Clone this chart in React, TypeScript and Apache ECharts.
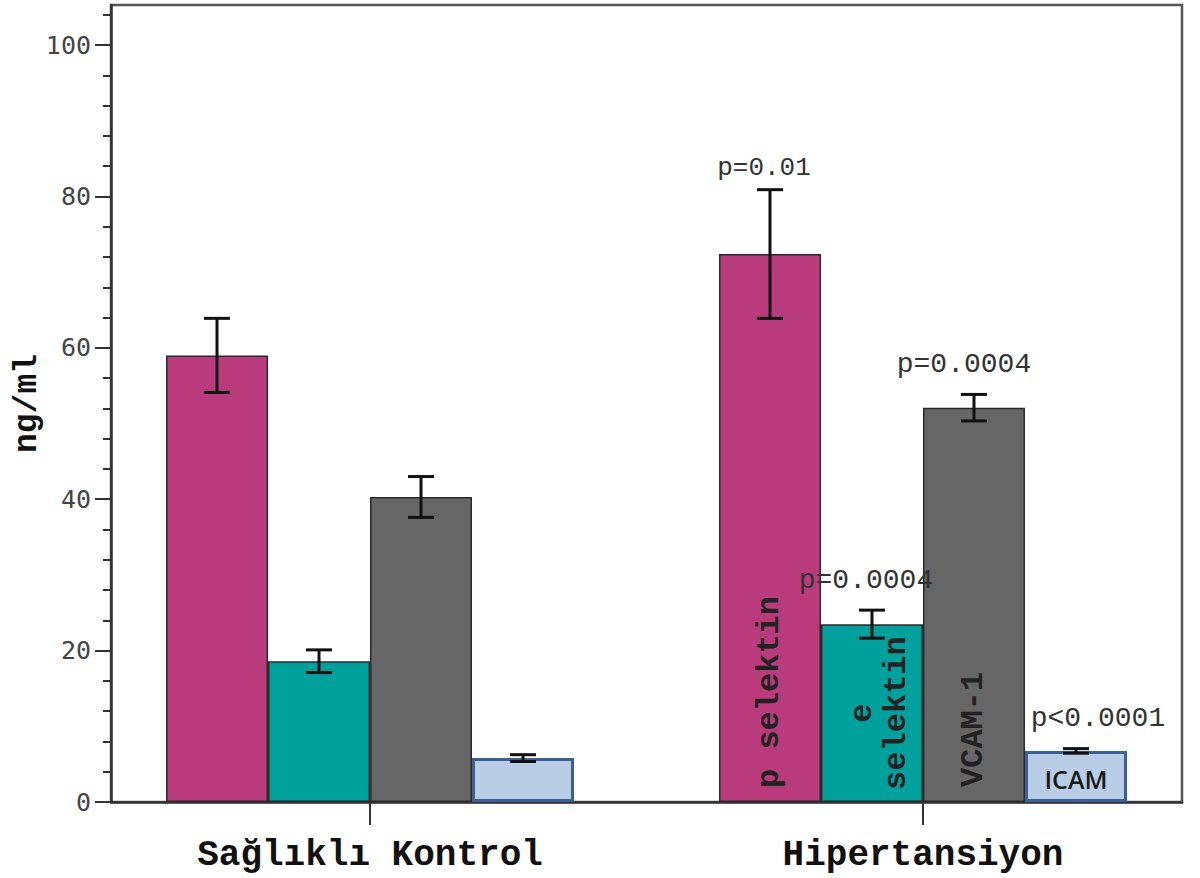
import React, { useEffect, useRef } from "react";
import * as echarts from "echarts";

const groups = ["Sağlıklı Kontrol", "Hipertansiyon"];
const measures = ["p selektin", "e selektin", "VCAM-1", "ICAM"];
const inBarTags = ["p selektin", "e\nselektin", "VCAM-1", "ICAM"];
const pSelektin = [59.0, 72.4];
const pSelektinErr = [4.9, 8.5];
const eSelektin = [18.6, 23.5];
const eSelektinErr = [1.5, 1.85];
const vcam1 = [40.3, 52.1];
const vcam1Err = [2.7, 1.75];
const icam = [5.8, 6.75];
const icamErr = [0.45, 0.3];
const pValuesHipertansiyon = ["p=0.01", "p=0.0004", "p=0.0004", "p<0.0001"];
const yMajorTicks = [0, 20, 40, 60, 80, 100];
const yMinorTicks = [0, 4, 8, 12, 16, 20, 24, 28, 32, 36, 40, 44, 48, 52, 56, 60, 64, 68, 72, 76, 80, 84, 88, 92, 96, 100, 104];
const groupPositions = [1, 2];

const values = [pSelektin, eSelektin, vcam1, icam];
const errors = [pSelektinErr, eSelektinErr, vcam1Err, icamErr];
const colors = ["#B93B7B", "#00A19D", "#666666", "#B9CDE6"];
const borders = ["#2a2a2a", "#2a2a2a", "#2a2a2a", "#3D5F92"];

const BAR_W = 102;
const MONO = "'Liberation Mono', 'Courier New', monospace";

export default function App() {
  const ref = useRef<HTMLDivElement>(null);
  useEffect(() => {
    if (!ref.current) return;
    const chart = echarts.init(ref.current, null, { renderer: "svg" });

    const labelFor = (m: number): any => {
      const base = {
        show: true,
        formatter: inBarTags[m],
        fontFamily: MONO,
        fontWeight: "bold",
        fontSize: 32,
        color: "#222",
      };
      if (m === 0 || m === 2) {
        return { ...base, position: "insideBottom", distance: m === 0 ? 14 : 15, rotate: 90, align: "left", verticalAlign: "middle" };
      }
      if (m === 1) {
        return { ...base, position: "inside", rotate: 90, align: "center", verticalAlign: "middle", lineHeight: 34, offset: [0, 8] };
      }
      return { ...base, position: "inside", fontFamily: "'Open Sans', 'Noto Sans', sans-serif", fontWeight: 600, fontSize: 25, color: "#1a1a1a", offset: [0, 3] };
    };

    const barSeries = measures.map((name, m) => ({
      type: "bar",
      name,
      barWidth: BAR_W,
      barGap: "0%",
      itemStyle: { color: colors[m], borderColor: borders[m], borderWidth: m === 3 ? 3 : 1.5 },
      data: values[m].map((v, i) =>
        i === 1 ? { value: [groupPositions[i], v], label: labelFor(m) } : [groupPositions[i], v]
      ),
      z: 2,
    }));

    const errSeries = measures.map((name, m) => ({
      type: "custom",
      name: name + " err",
      z: 5,
      encode: { x: 0, y: 1 },
      data: values[m].map((v, i) => [groupPositions[i], v, errors[m][i]]),
      renderItem: (params: any, api: any) => {
        const x = api.value(0);
        const v = api.value(1);
        const e = api.value(2);
        const top = api.coord([x, v + e]);
        const bot = api.coord([x, v - e]);
        const cx = top[0] + (m - 1.5) * BAR_W;
        const cap = 13;
        const st = { stroke: "#111", lineWidth: 3 };
        const children: any[] = [
          { type: "line", shape: { x1: cx, y1: top[1], x2: cx, y2: bot[1] }, style: st },
          { type: "line", shape: { x1: cx - cap, y1: top[1], x2: cx + cap, y2: top[1] }, style: st },
          { type: "line", shape: { x1: cx - cap, y1: bot[1], x2: cx + cap, y2: bot[1] }, style: st },
        ];
        if (params.dataIndex === 1) {
          children.push({
            type: "text",
            z2: 10,
            style: {
              text: pValuesHipertansiyon[m],
              x: cx + (m === 3 ? 22 : m === 1 ? -6 : m === 2 ? -10 : -6),
              y: top[1] - (m === 0 ? 9 : 16),
              align: "center",
              verticalAlign: "bottom",
              fontFamily: MONO,
              fontSize: m === 0 ? 26 : 28,
              fill: "#333",
            },
          });
        }
        return { type: "group", children };
      },
    }));

    chart.setOption({
      animation: false,
      backgroundColor: "#ffffff",
      grid: {
        left: 111,
        right: 18,
        top: 5,
        bottom: 76,
        outerBoundsMode: "none",
        containLabel: false,
        show: true,
        borderColor: "#555",
        borderWidth: 2.5,
        backgroundColor: "transparent",
      },
      xAxis: {
        type: "value",
        min: 0.5316,
        max: 2.4684,
        splitLine: { show: false },
        axisLine: { show: true, lineStyle: { color: "#333", width: 2.5 } },
        axisTick: { show: true, customValues: groupPositions, length: 23, lineStyle: { color: "#333", width: 2 } },
        axisLabel: {
          customValues: groupPositions,
          formatter: (val: number) => groups[Math.round(val) - 1] ?? "",
          margin: 35,
          fontFamily: MONO,
          fontWeight: "bold",
          fontSize: 36,
          color: "#111",
        },
      },
      yAxis: [
        {
          type: "value",
          min: 0,
          max: 105.3,
          position: "left",
          name: "ng/ml",
          nameLocation: "middle",
          nameRotate: 90,
          nameGap: 67,
          nameMoveOverlap: false,
          nameTextStyle: { fontFamily: MONO, fontWeight: "bold", fontSize: 33, color: "#111" },
          splitLine: { show: false },
          axisLine: { show: true, lineStyle: { color: "#333", width: 2.5 } },
          axisTick: { show: true, customValues: yMajorTicks, length: 16, lineStyle: { color: "#333", width: 2 } },
          axisLabel: {
            customValues: yMajorTicks,
            margin: 20,
            fontFamily: "'DejaVu Sans Mono', monospace",
            fontSize: 25,
            color: "#444",
          },
        },
        {
          type: "value",
          min: 0,
          max: 105.3,
          position: "left",
          splitLine: { show: false },
          axisLine: { show: false },
          axisLabel: { show: false },
          axisTick: { show: true, customValues: yMinorTicks, length: 8, lineStyle: { color: "#333", width: 2 } },
        },
      ],
      series: [...barSeries, ...errSeries],
    });

    return () => chart.dispose();
  }, []);

  return <div ref={ref} style={{ position: "fixed", left: 0, top: 0, width: 1200, height: 878 }} />;
}
